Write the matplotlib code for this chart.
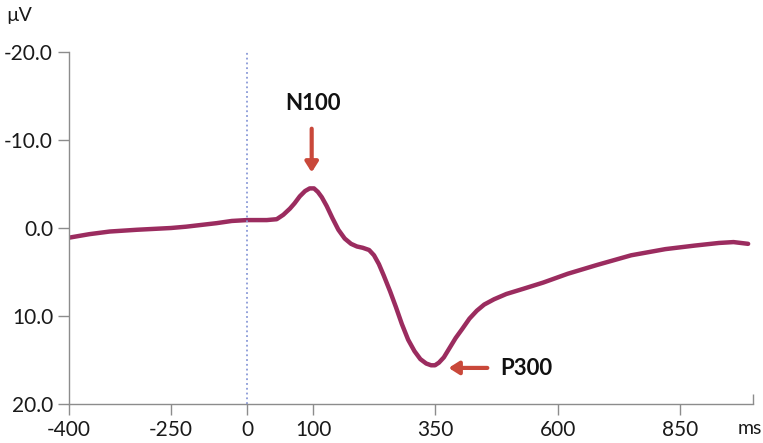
import numpy as np
import matplotlib
matplotlib.use('Agg')
import matplotlib.pyplot as plt

# ERP waveform (ms, µV; positive is plotted downwards)
tempo_ms = [-400, -370, -340, -300, -250, -200, -150, -100, -50, 0, 30, 45, 55, 65,
            72, 80, 88, 95, 102, 110, 118, 128, 140, 152, 165, 178, 190, 202, 215,
            225, 235, 245, 258, 270, 282, 295, 308, 320, 332, 342, 350, 358, 368,
            380, 392, 405, 420, 435, 450, 470, 495, 530, 570, 620, 680, 750, 820,
            880, 930, 960, 990]
amplitude_uv = [1.1, 0.7, 0.4, 0.2, 0.0, -0.15, -0.35, -0.55, -0.8, -0.9, -0.9, -1.0,
                -1.5, -2.2, -2.8, -3.6, -4.2, -4.5, -4.5, -4.1, -3.5, -2.5, -1.1, 0.2,
                1.2, 1.8, 2.1, 2.25, 2.5, 3.1, 4.1, 5.4, 7.2, 9.0, 10.9, 12.7, 14.0,
                14.9, 15.4, 15.6, 15.6, 15.3, 14.7, 13.6, 12.5, 11.5, 10.3, 9.4, 8.7,
                8.1, 7.5, 6.9, 6.2, 5.2, 4.2, 3.1, 2.4, 2.0, 1.7, 1.6, 1.8]

x_ticks = [-400, -250, 0, 100, 350, 600, 850]
y_ticks = [-20, -10, 0, 10, 20]

# the tick labels of the original are not evenly spaced -> piecewise scale
ms_ancora = np.array([-400, -250, 0, 100, 350, 600, 850, 1000], dtype=float)
px_ancora = np.array([69, 171, 247, 313, 435, 558, 680, 753], dtype=float)


def escala_fwd(x):
    return np.interp(x, ms_ancora, px_ancora)


def escala_inv(p):
    return np.interp(p, px_ancora, ms_ancora)


cor_linha = '#9b2c5f'
cor_seta = '#c9483a'
cor_eixo = '#8c8c8c'
cor_texto = '#1a1a1a'
fonte = 'Lato'

fig = plt.figure(figsize=(7.63, 4.43), dpi=100)
ax = fig.add_axes([69 / 763, 1 - 404 / 443, 684 / 763, 352 / 443])
ax.set_xscale('function', functions=(escala_fwd, escala_inv))

ax.plot(tempo_ms, amplitude_uv, color=cor_linha, lw=3.2,
        solid_capstyle='round', solid_joinstyle='round')
ax.axvline(0, color='#8a9ad8', linestyle=':', lw=1.3)

ax.set_xlim(-400, 1000)
ax.set_ylim(20, -20)

ax.set_xticks(x_ticks)
ax.set_xticklabels([str(v) for v in x_ticks], fontname=fonte, fontsize=15)
ax.set_xticks([1000], minor=True)
ax.set_yticks(y_ticks)
ax.set_yticklabels([f'{v:.1f}' for v in y_ticks], fontname=fonte, fontsize=15)

ax.tick_params(axis='both', which='major', direction='out', length=8,
               width=1, color=cor_eixo, pad=3.5, labelcolor=cor_texto)
ax.tick_params(axis='x', which='minor', direction='in', length=7, width=1, color=cor_eixo)

for lado in ['top', 'right']:
    ax.spines[lado].set_visible(False)
for lado in ['left', 'bottom']:
    ax.spines[lado].set_color(cor_eixo)
    ax.spines[lado].set_linewidth(1)

# setas e rótulos dos componentes
estilo_seta = '-|>,head_length=0.6,head_width=0.38'
ax.annotate('', xy=(98, -6.0), xytext=(98, -11.6),
            arrowprops=dict(arrowstyle=estilo_seta, color=cor_seta, lw=3))
ax.text(100, -14.2, 'N100', ha='center', va='center', fontname=fonte,
        fontweight='bold', fontsize=16, color='#111111')

ax.annotate('', xy=(372, 15.9), xytext=(462, 15.9),
            arrowprops=dict(arrowstyle=estilo_seta, color=cor_seta, lw=3))
ax.text(482, 16.0, 'P300', ha='left', va='center', fontname=fonte,
        fontweight='bold', fontsize=16, color='#111111')

fig.text(6 / 763, 1 - 16 / 443, 'µV', ha='left', va='center', fontname=fonte,
         fontsize=14, color=cor_texto)
fig.text(738 / 763, 1 - 428 / 443, 'ms', ha='left', va='center', fontname=fonte,
         fontsize=14, color=cor_texto)

fig.savefig('out.png', dpi=100)
